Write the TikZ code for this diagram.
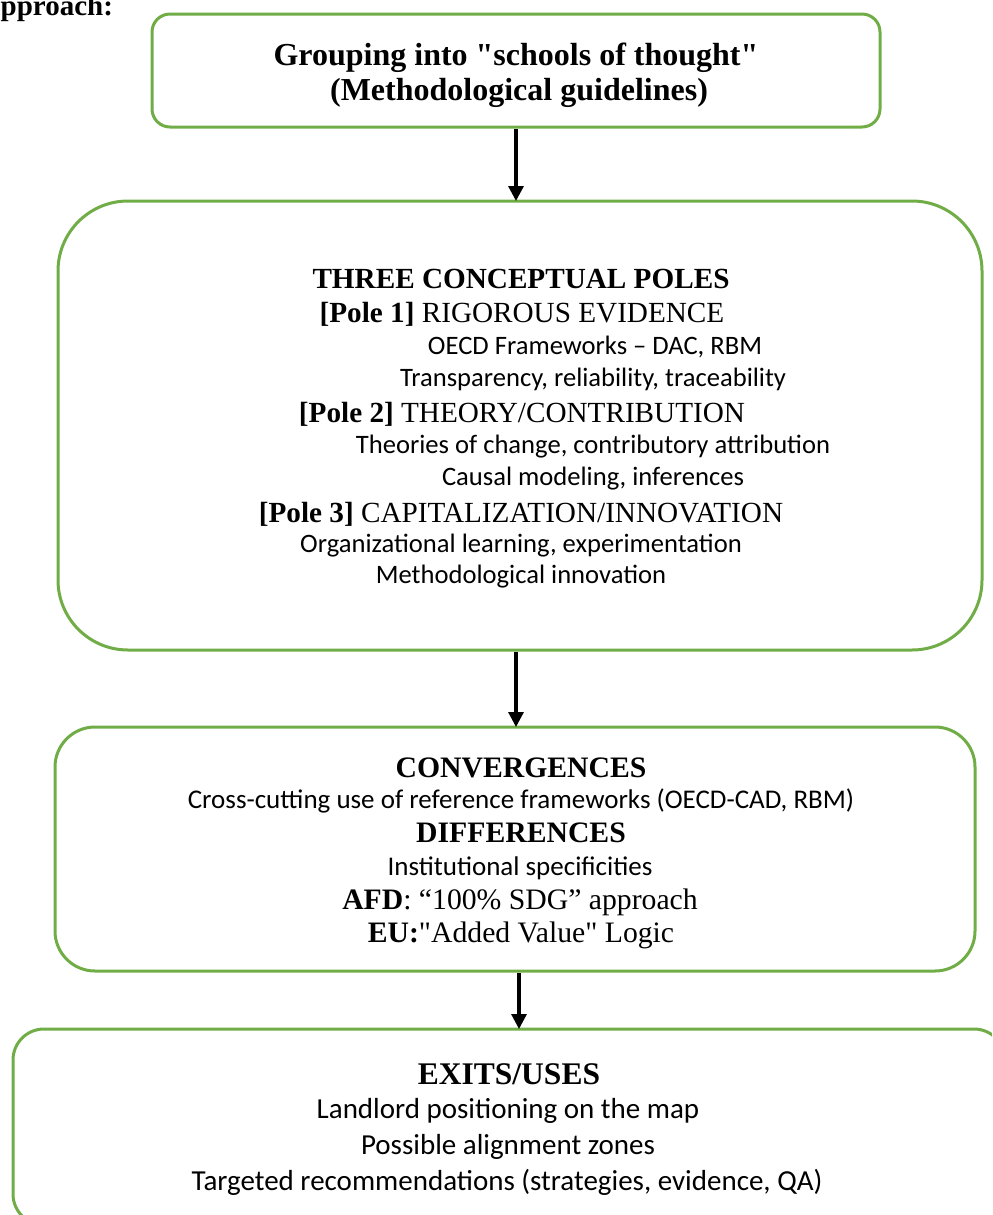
\documentclass[tikz,border=0pt]{standalone}
\usepackage{fontspec}
\setmainfont[Ligatures=TeXOff]{Liberation Serif}
\newfontfamily\calib{Carlito}
\usetikzlibrary{arrows.meta}
\definecolor{boxgreen}{RGB}{112,173,71}
\tikzset{
  stagebox/.style={draw=boxgreen, line width=1.5pt, rectangle, inner sep=0pt, outer sep=0pt},
  flowarrow/.style={line width=1.6pt, shorten <=1pt, -{Triangle[width=7.5pt,length=7.5pt]}},
  ln/.style={inner sep=0pt, outer sep=0pt, anchor=base},
  tnr/.style={ln, font=\fontsize{#1}{#1}\selectfont},
  cal/.style={ln, font=\calib\fontsize{#1}{#1}\selectfont},
}
\begin{document}
\begin{tikzpicture}[x=0.5pt, y=-0.5pt]
\useasboundingbox (0,0) rectangle (992,1215);
\clip (0,0) rectangle (992,1215);

% heading fragment (cut at the left edge, as in the reference)
\node[tnr=14.5, anchor=base east] (head) at (113,15) {\textbf{approach:}};

% boxes
\node[stagebox, rounded corners=9pt, minimum width=364pt, minimum height=56.5pt] (b1) at (516,70.5) {};
\node[stagebox, rounded corners=35pt, minimum width=462pt, minimum height=224.5pt] (b2) at (520,425.5) {};
\node[stagebox, rounded corners=20pt, minimum width=460pt, minimum height=122pt] (b3) at (515,849) {};
\node[stagebox, rounded corners=15.5pt, minimum width=496pt, minimum height=98pt] (b4) at (509,1127) {};

% box 1 text
\node[tnr=16] (g1) at (516,65) {\textbf{Grouping into "schools of thought"}};
\node[tnr=16] (g2) at (519,100) {\textbf{(Methodological guidelines)}};

% box 2 text
\node[tnr=14.6] (p0) at (521,288) {\textbf{THREE CONCEPTUAL POLES}};
\node[tnr=14.6] (p1) at (522,322) {\textbf{[Pole 1]} RIGOROUS EVIDENCE};
\node[cal=13.3] (p1a) at (595,354) {OECD Frameworks – DAC, RBM};
\node[cal=13.3] (p1b) at (593,386) {Transparency, reliability, traceability};
\node[tnr=14.6] (p2) at (522,422) {\textbf{[Pole 2]} THEORY/CONTRIBUTION};
\node[cal=13.3] (p2a) at (593,453) {Theories of change, contributory attribution};
\node[cal=13.3] (p2b) at (593,485) {Causal modeling, inferences};
\node[tnr=14.6] (p3) at (521,522) {\textbf{[Pole 3]} CAPITALIZATION/INNOVATION};
\node[cal=13.3] (p3a) at (521,552) {Organizational learning, experimentation};
\node[cal=13.3] (p3b) at (521,583) {Methodological innovation};

% box 3 text
\node[tnr=14.85] (c0) at (521,777) {\textbf{CONVERGENCES}};
\node[cal=13.5] (c1) at (521,808) {Cross-cutting use of reference frameworks (OECD-CAD, RBM)};
\node[tnr=14.85] (d0) at (521,842) {\textbf{DIFFERENCES}};
\node[cal=13.5] (d1) at (520,875) {Institutional specificities};
\node[tnr=14.85] (d2) at (520,909) {\textbf{AFD}: “100\% SDG” approach};
\node[tnr=14.85] (d3) at (521,942) {\textbf{EU:}"Added Value" Logic};

% box 4 text
\node[tnr=15.75] (e0) at (509,1084) {\textbf{EXITS/USES}};
\node[cal=14.5] (e1) at (508,1118) {Landlord positioning on the map};
\node[cal=14.5] (e2) at (508,1154) {Possible alignment zones};
\node[cal=14.5] (e3) at (507,1190) {Targeted recommendations (strategies, evidence, QA)};

% connectors
\coordinate (s1) at (b1.south);
\coordinate (s2) at ([xshift=-2pt]b2.south);
\coordinate (s3) at ([xshift=2pt]b3.south);
\draw[flowarrow] (s1) -- (s1 |- b2.north);
\draw[flowarrow] (s2) -- (s2 |- b3.north);
\draw[flowarrow] (s3) -- (s3 |- b4.north);
\end{tikzpicture}
\end{document}
